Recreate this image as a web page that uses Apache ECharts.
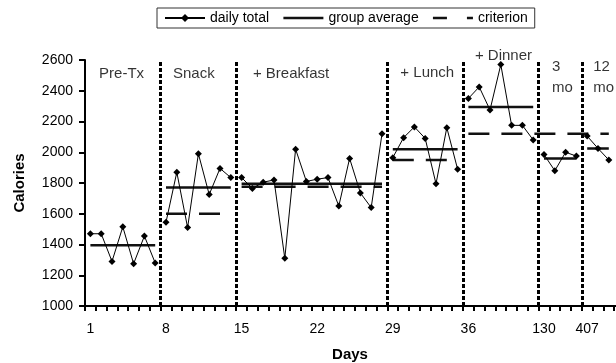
<!DOCTYPE html>
<html>
<head>
<meta charset="utf-8">
<script src="https://cdn.jsdelivr.net/npm/echarts@6/dist/echarts.min.js"></script>
<style>
  html, body { margin: 0; padding: 0; background: #fff; }
  #chart { width: 616px; height: 363px; }
</style>
</head>
<body>
<div id="chart"></div>
<script>
// Study days, one category per recorded day
const categories = [
  '1','2','3','4','5','6','7',
  '8','9','10','11','12','13','14',
  '15','16','17','18','19','20','21','22','23','24','25','26','27','28',
  '29','30','31','32','33','34','35',
  '36','37','38','39','40','41','42',
  '130','131','132','133',
  '407','408','409','410'
];
const tickLabels = ['1','8','15','22','29','36','130','407'];

// Phases of the intervention and how many day slots each occupies
const phaseNames = ['Pre-Tx', 'Snack', '+ Breakfast', '+ Lunch', '+ Dinner', '3\nmo', '12\nmo'];
const phaseLengths = [7, 7, 14, 7, 7, 4, 4];

// Daily calorie totals per phase
const preTx     = [1470, 1470, 1290, 1515, 1275, 1455, 1280];
const snack     = [1545, 1870, 1510, 1990, 1725, 1895, 1835];
const breakfast = [1835, 1765, 1805, 1820, 1310, 2020, 1810, 1825, 1835, 1650, 1960, 1735, 1640, 2120];
const lunch     = [1965, 2095, 2165, 2090, 1795, 2160, 1890];
const dinner    = [2350, 2425, 2275, 2570, 2175, 2175, 2080];
const mo3       = [1985, 1880, 2000, 1975];
const mo12      = [2105, 2025, 1950];

// Group average and criterion level per phase
const groupAvg  = [1395, 1770, 1795, 2020, 2295, 1960, 2025];
const criterion = [null, 1600, 1775, 1950, 2120, 2120, 2120];

const FONT = '"Liberation Sans", Arial, Helvetica, sans-serif';
const INK = '#000';
const NO_DOT = { color: 'rgba(0,0,0,0)', borderWidth: 0, opacity: 0 };
const N = categories.length;
const phaseDaily = [preTx, snack, breakfast, lunch, dinner, mo3, mo12];

const starts = [];
let acc = 0;
phaseLengths.forEach(len => { starts.push(acc); acc += len; });

function spread(start, values) {
  const arr = new Array(N).fill(null);
  values.forEach((v, i) => { arr[start + i] = v; });
  return arr;
}

const series = [];

// Group average: one solid segment per phase
phaseDaily.forEach((vals, p) => {
  series.push({
    name: 'group average', type: 'line', z: 2,
    data: spread(starts[p], vals.map(() => groupAvg[p])),
    symbol: 'none', silent: true,
    itemStyle: { color: '#111' },
    lineStyle: { color: '#111', width: 2.5 }
  });
});

// Criterion: dashed segments, consecutive phases sharing a level run as one
for (let p = 0; p < criterion.length; ) {
  if (criterion[p] == null) { p++; continue; }
  let q = p;
  while (q + 1 < criterion.length && criterion[q + 1] === criterion[p]) q++;
  const first = starts[p];
  const last = starts[q] + phaseDaily[q].length - 1;
  const arr = new Array(N).fill(null);
  for (let i = first; i <= last; i++) arr[i] = criterion[p];
  series.push({
    name: 'criterion', type: 'line', z: 2,
    data: arr, symbol: 'none', silent: true,
    itemStyle: { color: '#111' },
    lineStyle: { color: '#111', width: 2.5, type: [21, 12] }
  });
  p = q + 1;
}

// Daily totals: a separate line per phase so phases are not joined
phaseDaily.forEach((vals, p) => {
  series.push({
    name: 'daily total', type: 'line', z: 3,
    data: spread(starts[p], vals),
    symbol: 'diamond', symbolSize: 7, showAllSymbol: true,
    connectNulls: false,
    itemStyle: { color: INK },
    lineStyle: { color: INK, width: 1 }
  });
});

// Phase captions (on the slot-based value axis) plus the phase dividers
const labelOffset = [1.3, 1.15, 1.55, 1.2, 1.1, 1.25, 1.05];
const labelLevel  = [2513, 2513, 2513, 2515, 2630, 2490, 2490];
series.push({
  type: 'scatter', xAxisIndex: 1, yAxisIndex: 0,
  clip: false, silent: true, symbolSize: 0,
  data: phaseNames.map((name, p) => ({ name, value: [starts[p] + labelOffset[p], labelLevel[p]] })),
  label: {
    show: true, position: 'right', distance: 0,
    formatter: '{b}', color: INK, fontFamily: FONT, fontSize: 15, lineHeight: 21
  },
  markLine: {
    silent: true, symbol: ['none', 'none'], animation: false,
    label: { show: false },
    lineStyle: { color: INK, width: 3, type: [4, 2] },
    data: starts.slice(1).map(b => ({ xAxis: b }))
  }
});

const chart = echarts.init(document.getElementById('chart'), null, { renderer: 'canvas' });
chart.setOption({
  animation: false,
  backgroundColor: '#fff',
  textStyle: { fontFamily: FONT },
  grid: { left: 85, top: 60, width: 540, height: 246, containLabel: false, outerBoundsMode: 'none' },
  legend: {
    data: [
      { name: 'daily total' },
      { name: 'group average', itemStyle: NO_DOT, lineStyle: { width: 2.5 } },
      { name: 'criterion', itemStyle: NO_DOT, lineStyle: { width: 2.5, type: [14, 20] } }
    ],
    left: 157, top: 8,
    padding: [3, 7],
    itemGap: 13, itemWidth: 40, itemHeight: 10,
    borderColor: '#333', borderWidth: 1,
    selectedMode: false,
    textStyle: { fontFamily: FONT, fontSize: 14, color: INK }
  },
  xAxis: [
    {
      type: 'category', data: categories, boundaryGap: true,
      name: 'Days', nameLocation: 'middle', nameGap: 41,
      nameTextStyle: { fontFamily: FONT, fontSize: 15, fontWeight: 'bold', color: INK, padding: [0, 10, 0, 0] },
      axisLine: { lineStyle: { color: INK, width: 2 } },
      axisTick: { show: true, interval: 0, length: 5, lineStyle: { color: INK, width: 2 } },
      axisLabel: {
        interval: 0, margin: 16, color: INK, fontFamily: FONT, fontSize: 14,
        formatter: v => (tickLabels.includes(v) ? v : '')
      },
      splitLine: { show: false }
    },
    {
      type: 'value', min: 0, max: N, show: false
    }
  ],
  yAxis: {
    type: 'value', min: 1000, max: 2600, interval: 200,
    name: 'Calories', nameLocation: 'middle', nameGap: 58,
    nameTextStyle: { fontFamily: FONT, fontSize: 15, fontWeight: 'bold', color: INK },
    axisLine: { show: true, lineStyle: { color: INK, width: 2 } },
    axisTick: { show: true, length: 6, lineStyle: { color: INK, width: 2 } },
    axisLabel: { margin: 12, color: INK, fontFamily: FONT, fontSize: 14, formatter: v => String(v) },
    splitLine: { show: false }
  },
  series
});
</script>
</body>
</html>
